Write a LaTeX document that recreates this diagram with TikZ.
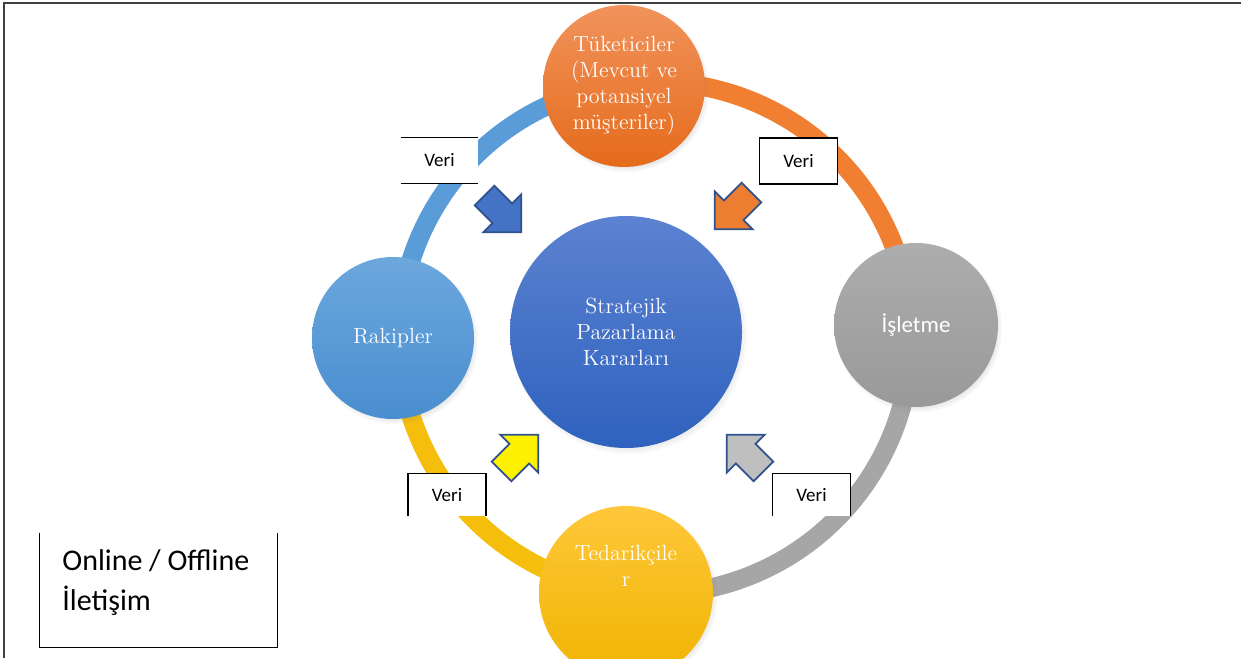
\documentclass[tikz,border=0pt]{standalone}
\usepackage{fontspec}
\newfontfamily\calibri{Carlito}
\usetikzlibrary{shapes.arrows, shadows}
\definecolor{cerceve}{HTML}{404040}
\definecolor{ringOrange}{HTML}{F07F32}
\definecolor{ringGray}{HTML}{A6A6A6}
\definecolor{ringYellow}{HTML}{F5BD0C}
\definecolor{ringBlue}{HTML}{5A9CD8}
\definecolor{tukTop}{HTML}{F1935C}
\definecolor{tukBot}{HTML}{E56B1B}
\definecolor{kararTop}{HTML}{5C82D1}
\definecolor{kararBot}{HTML}{2E62BE}
\definecolor{rakipTop}{HTML}{6CA7DD}
\definecolor{rakipBot}{HTML}{498ED0}
\definecolor{isTop}{HTML}{ADADAD}
\definecolor{isBot}{HTML}{999999}
\definecolor{tedTop}{HTML}{FFC73A}
\definecolor{tedBot}{HTML}{EFB400}
\definecolor{okkenar}{HTML}{2F528F}
\definecolor{okMavi}{HTML}{4472C4}
\definecolor{okTuruncu}{HTML}{ED7D31}
\definecolor{okGri}{HTML}{BFBFBF}

\begin{document}
\begin{tikzpicture}[x=0.5pt, y=0.5pt,
  hub/.style={circle, inner sep=0pt, align=center, text=white,
    font=\fontsize{11}{13}\selectfont,
    circular drop shadow={shadow xshift=1pt, shadow yshift=-1.5pt, shadow scale=1.03, opacity=.35}},
  ring/.style={line width=9.5pt},
  verikutu/.style={fill=white, minimum width=38.5pt, minimum height=22.5pt, inner sep=0pt,
    font=\calibri\fontsize{9.5}{11}\selectfont},
  kutucizgi/.style={line width=0.8pt, black},
  ok/.style={single arrow, draw=okkenar, line width=0.9pt, inner xsep=0pt, inner ysep=6.5pt,
    minimum height=26pt, single arrow head extend=6.5pt}
]
\useasboundingbox (0,0) rectangle (1241,658);

% cerceve
\draw[line width=1pt, cerceve] (4,0) -- (4,655) -- (1241,655);

% halka
\coordinate (merkez) at (655,320);
\draw[ring, ringOrange] (merkez) ++(97:256) arc[start angle=97, end angle=3, radius=256];
\draw[ring, ringGray] (merkez) ++(3:256) arc[start angle=3, end angle=-97, radius=256];
\draw[ring, ringYellow] (merkez) ++(-97:256) arc[start angle=-97, end angle=-180, radius=256];
\draw[ring, ringBlue] (merkez) ++(180:256) arc[start angle=180, end angle=97, radius=256];

% veri kutulari
\node[verikutu] (veriSolUst) at (439.5,497.5) {Veri};
\node[verikutu] (veriSagUst) at (798.5,497) {Veri};
\node[verikutu, minimum height=21pt] (veriSolAlt) at (447,163) {Veri};
\node[verikutu, minimum height=21pt] (veriSagAlt) at (811.5,163) {Veri};
\draw[kutucizgi] (veriSolUst.north west) -- (veriSolUst.north east)
  (veriSolUst.south west) -- (veriSolUst.south east);
\draw[kutucizgi] (veriSagUst.south west) rectangle (veriSagUst.north east);
\draw[kutucizgi] (veriSolAlt.south west) -- (veriSolAlt.north west) -- (veriSolAlt.north east) -- (veriSolAlt.south east);
\draw[kutucizgi] (veriSagAlt.south west) -- (veriSagAlt.north west) -- (veriSagAlt.north east) -- (veriSagAlt.south east);

% daireler
\node[hub, top color=tukTop, bottom color=tukBot, minimum size=81pt] (tuketici) at (624,572)
  {Tüketiciler\\(Mevcut ve\\potansiyel\\müşteriler)};
\node[hub, top color=kararTop, bottom color=kararBot, minimum size=116pt] (karar) at (626,326)
  {Stratejik\\Pazarlama\\Kararları};
\node[hub, top color=rakipTop, bottom color=rakipBot, minimum size=81pt] (rakip) at (393,320) {Rakipler};
\node[hub, top color=isTop, bottom color=isBot, minimum size=82pt,
  font=\calibri\fontsize{11.5}{13}\selectfont] (isletme) at (916,333) {İşletme};
\node[hub, top color=tedTop, bottom color=tedBot, minimum size=87pt, text depth=27pt] (tedarik) at (626,65)
  {Tedarikçile\\r};

% oklar
\node[ok, fill=okMavi, rotate=-45] (okSolUst) at (498,449) {};
\node[ok, fill=okTuruncu, rotate=-135] (okSagUst) at (738,452) {};
\node[ok, fill=yellow, rotate=45] (okSolAlt) at (515,200) {};
\node[ok, fill=okGri, rotate=135] (okSagAlt) at (750,200) {};

% iletisim kutusu
\node[minimum width=118.5pt, minimum height=57pt, inner sep=0pt] (iletisim) at (158.5,68) {};
\node[anchor=west, align=left, inner sep=0pt, font=\calibri\fontsize{15}{20}\selectfont] (iletisimYazi) at (62,75)
  {Online / Offline\\İletişim};
\draw[kutucizgi] (iletisim.north west) -- (iletisim.south west) -- (iletisim.south east) -- (iletisim.north east);
\end{tikzpicture}
\end{document}
